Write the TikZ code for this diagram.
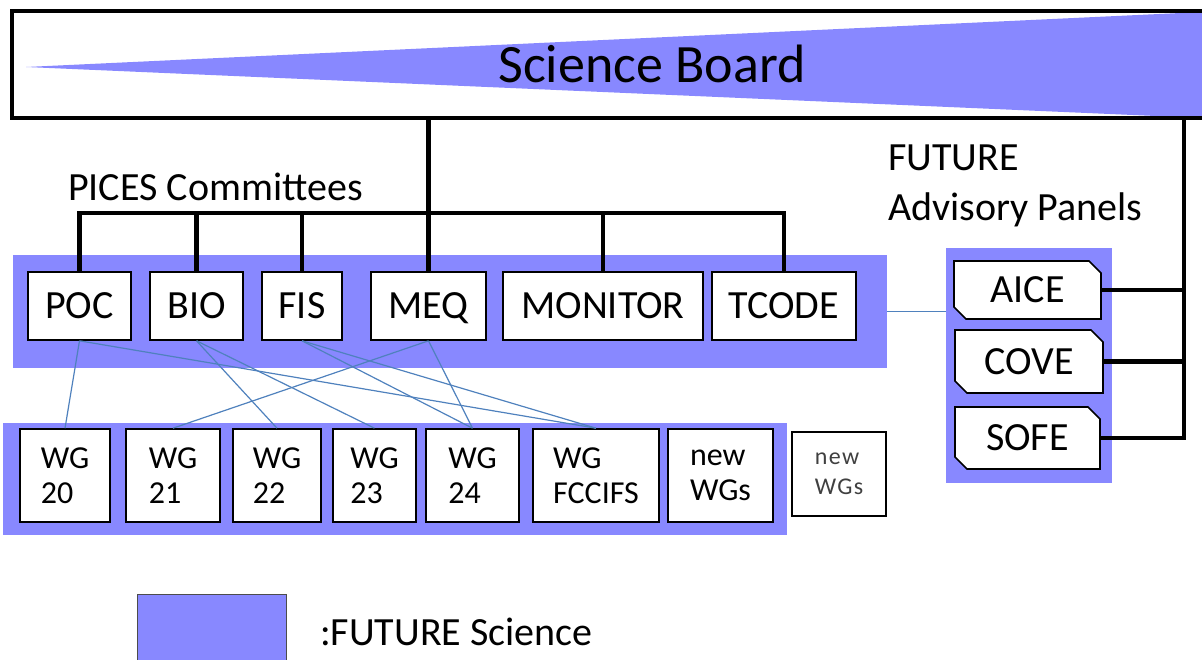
\documentclass[tikz,border=0pt]{standalone}
\usepackage{fontspec}
\setmainfont{Carlito}
\usetikzlibrary{shapes.misc}
\definecolor{futureblue}{RGB}{136,136,255}
\definecolor{linkblue}{RGB}{79,129,189}

\begin{document}
\begin{tikzpicture}
  [x=1pt,y=-1pt,every node/.style={inner sep=0pt},
   band/.style={fill=futureblue},
   cbox/.style={draw,line width=1.6pt,fill=white,minimum height=68pt,text depth=0pt,font=\fontsize{40}{48}\selectfont},
   wgbox/.style={draw,line width=1.6pt,fill=white,minimum height=93pt,align=left,font=\fontsize{32}{35}\selectfont},
   panel/.style={draw,line width=1.6pt,fill=white,chamfered rectangle,chamfered rectangle corners={north east,south west},chamfered rectangle xsep=6pt,chamfered rectangle ysep=6pt,text depth=0pt,font=\fontsize{40}{48}\selectfont},
   label/.style={font=\fontsize{40}{48}\selectfont},
   tree/.style={line width=4.2pt},
   link/.style={linkblue,line width=1.2pt}]
  \useasboundingbox (0,0) rectangle (1202,660);
  \clip (0,0) rectangle (1202,660);

  \fill[futureblue] (26,67) -- (1202,12) -- (1202,118) -- cycle;
  \node[draw,line width=4pt,minimum width=1220pt,minimum height=106.5pt] (boardbox) at (621.5,64.75) {};
  \node[font=\fontsize{54}{60}\selectfont] (board) at (652,64) {Science Board};

  \node[label,anchor=base west] (pices) at (68,201) {PICES Committees};
  \node[label,anchor=base west] (future) at (888,171) {FUTURE};
  \node[label,anchor=base west] (advisory) at (888,221) {Advisory Panels};

  \node[band,minimum width=874pt,minimum height=113pt] (cband) at (450,311.5) {};
  \node[band,minimum width=784pt,minimum height=112pt] (wband) at (395,479) {};
  \node[band,minimum width=166pt,minimum height=235pt] (aband) at (1029,365.5) {};

  \node[cbox,minimum width=103pt] (poc) at (79.5,306) {POC};
  \node[cbox,minimum width=93pt] (bio) at (196.5,306) {BIO};
  \node[cbox,minimum width=80pt] (fis) at (302,306) {FIS};
  \node[cbox,minimum width=115pt] (meq) at (428.5,306) {MEQ};
  \node[cbox,minimum width=200pt] (monitor) at (603,306) {MONITOR};
  \node[cbox,minimum width=144pt] (tcode) at (784,306) {TCODE};

  \node[wgbox,minimum width=90pt] (wg20) at (65,475.5) {WG\\20};
  \node[wgbox,minimum width=94pt] (wg21) at (173,475.5) {WG\\21};
  \node[wgbox,minimum width=88pt] (wg22) at (277,475.5) {WG\\22};
  \node[wgbox,minimum width=83pt] (wg23) at (374.5,475.5) {WG\\23};
  \node[wgbox,minimum width=93pt] (wg24) at (472.5,475.5) {WG\\24};
  \node[wgbox,minimum width=126pt] (wgf) at (596,475.5) {WG\\FCCIFS};
  \node[wgbox,minimum width=105pt] (wgnew) at (720.5,475.5) {new\\WGs};
  \node[draw,line width=1.2pt,fill=white,minimum width=94pt,minimum height=84pt,align=left,text=black!75,
    font=\fontsize{24}{30}\selectfont\addfontfeature{LetterSpace=6}] (wgmore) at (839,474) {new\\WGs};

  \node[panel,minimum width=147pt,minimum height=58pt] (aice) at (1027.5,290) {AICE};
  \node[panel,minimum width=148pt,minimum height=63pt] (cove) at (1029,361.5) {COVE};
  \node[panel,minimum width=145pt,minimum height=62pt] (sofe) at (1027.5,438) {SOFE};

  \coordinate (bus) at (428.5,213);
  \coordinate (rbus) at (1184,213);
  \draw[tree] (boardbox.south -| bus) -- (bus);
  \draw[tree] (poc.north) |- (bus) -| (tcode.north);
  \foreach \c in {bio,fis,meq,monitor}
    \draw[tree] (\c.north) -- (\c.north |- bus);
  \draw[tree] (boardbox.south -| rbus) |- (sofe.east);
  \foreach \p in {aice,cove}
    \draw[tree] (\p.east) -- (\p.east -| rbus);

  \foreach \from/\to in {poc/wg20,poc/wgf,bio/wg22,bio/wg23,fis/wg24,fis/wgf,meq/wg21,meq/wg24}
    \draw[link] (\from.south) -- (\to.north);
  \draw[link] (cband.east) -- (cband.east -| aband.west);

  \node[band,draw=black!70,line width=1pt,minimum width=149pt,minimum height=80pt] (key) at (211.5,634) {};
  \node[label,anchor=west] (keytext) at (320,632) {:FUTURE Science};
\end{tikzpicture}
\end{document}
